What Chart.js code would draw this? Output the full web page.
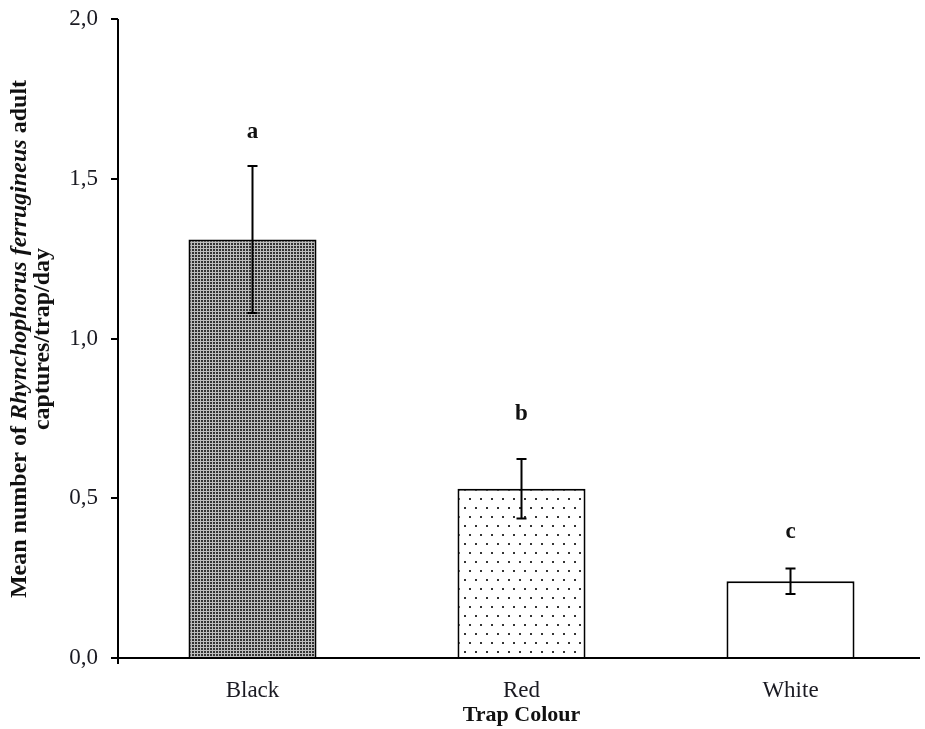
<!DOCTYPE html>
<html>
<head>
<meta charset="utf-8">
<script src="https://cdn.jsdelivr.net/npm/chart.js@4/dist/chart.umd.min.js"></script>
<style>
html,body{margin:0;padding:0;background:#fff;}
#wrap{width:925px;height:729px;}
</style>
</head>
<body>
<div id="wrap"><canvas id="c" width="925" height="729"></canvas></div>
<script>
const categories = ['Black', 'Red', 'White'];
const meanValues = [1.31, 0.53, 0.24];
const errorValues = [0.23, 0.093, 0.04];
const groupLetters = ['a', 'b', 'c'];
const letterValues = [1.645, 0.765, 0.395];
const yTickLabels = ['0,0', '0,5', '1,0', '1,5', '2,0'];

const SERIF = '"Liberation Serif", "Times New Roman", serif';

function makePattern(kind) {
  const t = document.createElement('canvas');
  const g = t.getContext('2d');
  if (kind === 'checker') {
    t.width = 3; t.height = 3;
    g.fillStyle = '#bdbdbd'; g.fillRect(0, 0, 3, 3);
    g.fillStyle = '#333333'; g.fillRect(0, 0, 2, 2);
  } else if (kind === 'dots') {
    t.width = 11; t.height = 18;
    g.fillStyle = '#ffffff'; g.fillRect(0, 0, 11, 18);
    g.fillStyle = '#333333';
    g.fillRect(2, 3, 2, 2);
    g.fillRect(7, 12, 2, 2);
  } else {
    t.width = 2; t.height = 2;
    g.fillStyle = '#ffffff'; g.fillRect(0, 0, 2, 2);
  }
  return document.getElementById('c').getContext('2d').createPattern(t, 'repeat');
}
const fills = [makePattern('checker'), makePattern('dots'), makePattern('plain')];

const extras = {
  id: 'extras',
  afterDatasetsDraw(chart) {
    const ctx = chart.ctx;
    const x = chart.scales.x, y = chart.scales.y;
    const ca = chart.chartArea;
    ctx.save();
    ctx.strokeStyle = '#000'; ctx.lineWidth = 2;
    ctx.beginPath();
    ctx.moveTo(ca.left, ca.bottom); ctx.lineTo(920, ca.bottom);
    ctx.moveTo(ca.left, ca.top); ctx.lineTo(ca.left, ca.bottom + 6);
    ctx.stroke();
    meanValues.forEach((v, i) => {
      const cx = x.getPixelForValue(i);
      const yt = y.getPixelForValue(v + errorValues[i]);
      const yb = y.getPixelForValue(v - errorValues[i]);
      ctx.beginPath();
      ctx.moveTo(cx, yt); ctx.lineTo(cx, yb);
      ctx.moveTo(cx - 5, yt); ctx.lineTo(cx + 5, yt);
      ctx.moveTo(cx - 5, yb); ctx.lineTo(cx + 5, yb);
      ctx.stroke();
      ctx.fillStyle = '#111';
      ctx.font = 'bold 23px ' + SERIF;
      ctx.textAlign = 'center'; ctx.textBaseline = 'middle';
      ctx.fillText(groupLetters[i], cx, y.getPixelForValue(letterValues[i]));
    });
    const parts = [
      ['bold ', 'Mean number of '],
      ['italic bold ', 'Rhynchophorus ferrugineus'],
      ['bold ', ' adult']
    ];
    const cy = 339;
    ctx.save();
    ctx.translate(20, cy);
    ctx.rotate(-Math.PI / 2);
    ctx.textBaseline = 'middle'; ctx.textAlign = 'left';
    ctx.fillStyle = '#111';
    let total = 0;
    parts.forEach(p => { ctx.font = p[0] + '24px ' + SERIF; total += ctx.measureText(p[1]).width; });
    let px = -total / 2;
    parts.forEach(p => { ctx.font = p[0] + '24px ' + SERIF; ctx.fillText(p[1], px, 0); px += ctx.measureText(p[1]).width; });
    ctx.restore();
    ctx.save();
    ctx.translate(43, cy);
    ctx.rotate(-Math.PI / 2);
    ctx.textBaseline = 'middle'; ctx.textAlign = 'center';
    ctx.fillStyle = '#111';
    ctx.font = 'bold 24px ' + SERIF;
    ctx.fillText('captures/trap/day', 0, 0);
    ctx.restore();
    ctx.restore();
  }
};

new Chart(document.getElementById('c'), {
  type: 'bar',
  data: {
    labels: categories,
    datasets: [{
      data: meanValues,
      backgroundColor: fills,
      borderColor: '#000',
      borderWidth: 2,
      borderSkipped: 'bottom',
      barPercentage: 0.476,
      categoryPercentage: 1.0
    }]
  },
  options: {
    responsive: false,
    animation: false,
    devicePixelRatio: 1,
    layout: { padding: { top: 19, right: 0, left: 0, bottom: 0 } },
    plugins: { legend: { display: false }, tooltip: { enabled: false } },
    scales: {
      x: {
        grid: { display: false },
        border: { display: false },
        ticks: { color: '#1a1a22', font: { family: SERIF, size: 23 }, padding: 11 },
        title: { display: true, text: 'Trap Colour', color: '#111', font: { family: SERIF, size: 22, weight: 'bold' }, padding: { top: 0, bottom: 0 } },
        afterFit(s) { s.height = 71; s.paddingLeft = 0; s.paddingRight = 0; }
      },
      y: {
        min: 0, max: 2,
        ticks: {
          stepSize: 0.5,
          color: '#1a1a22',
          font: { family: SERIF, size: 23 },
          padding: 13,
          callback: (v) => yTickLabels[Math.round(v / 0.5)]
        },
        grid: { drawOnChartArea: false, drawTicks: true, tickLength: 7, color: '#000', lineWidth: 2 },
        border: { display: false },
        afterFit(s) { s.width = 118; s.paddingTop = 0; s.paddingBottom = 0; }
      }
    }
  },
  plugins: [extras]
});
</script>
</body>
</html>
